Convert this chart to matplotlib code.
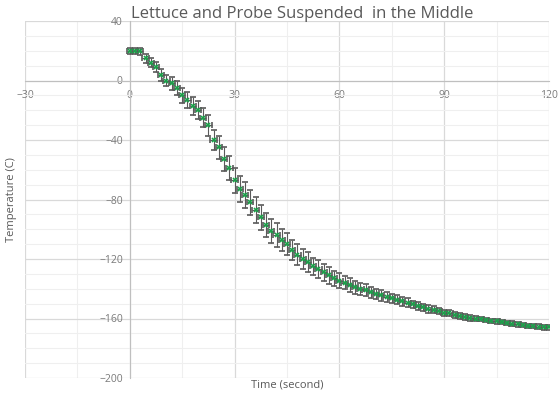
import matplotlib.pyplot as plt
import numpy as np
from matplotlib.ticker import MultipleLocator

# time in seconds, temperature in C, error (std dev)
time_s = [0, 1.5, 3, 4.5, 6, 7.5, 9, 10.5, 12, 13.5, 15, 16.5, 18, 19.5, 21, 22.5, 24, 25.5, 27, 28.5,
          30, 31.5, 33, 34.5, 36, 37.5, 39, 40.5, 42, 43.5, 45, 46.5, 48, 49.5, 51, 52.5, 54, 55.5, 57, 58.5,
          60, 61.5, 63, 64.5, 66, 67.5, 69, 70.5, 72, 73.5, 75, 76.5, 78, 79.5, 81, 82.5, 84, 85.5, 87, 88.5,
          90, 91.5, 93, 94.5, 96, 97.5, 99, 100.5, 102, 103.5, 105, 106.5, 108, 109.5, 111, 112.5, 114, 115.5,
          117, 118.5, 120]
temp_c = [20, 20, 19.5, 15, 12, 9, 4, 0, -2, -5, -10, -13, -17, -20, -25, -30, -40, -45, -53, -59,
          -67, -73, -77, -82, -87, -92, -97, -101, -104, -107, -110, -114, -117, -120, -122, -125, -127, -129, -131, -133,
          -134.5, -136, -137.5, -139, -140, -141, -142.5, -143.5, -144.5, -145.5, -146.5, -147.5, -148.5, -149.5, -150.5, -151.5, -152.5, -153.5, -154, -155,
          -156, -156.5, -157.5, -158.5, -159, -159.5, -160, -160.5, -161, -161.5, -162, -162.5, -163, -163.5, -164, -164.5, -165, -165,
          -165.5, -166, -166]
temp_err = [2, 2, 2.5, 3, 3, 3.5, 4, 4, 4.5, 5, 5, 5.5, 6, 6, 6.5, 7, 7, 7.5, 8, 8,
            8.5, 8.5, 8.5, 8.5, 8.5, 8.5, 8, 8, 8, 7.5, 7.5, 7, 7, 6.5, 6.5, 6, 6, 5.5, 5.5, 5,
            5, 4.5, 4.5, 4.5, 4, 4, 4, 3.5, 3.5, 3.5, 3, 3, 3, 3, 2.5, 2.5, 2.5, 2.5, 2.5, 2,
            2, 2, 2, 2, 2, 2, 1.5, 1.5, 1.5, 1.5, 1.5, 1.5, 1.5, 1.5, 1.5, 1.5, 1.5, 1.5,
            1.5, 1.5, 1.5]

plt.rcParams['font.family'] = ['Open Sans', 'DejaVu Sans']
txtcol = '#595959'

fig = plt.figure(figsize=(5.59, 3.97), dpi=100)
ax = fig.add_axes([25/559, 1-378/397, 524/559, 357/397])

ax.set_xlim(-30, 120)
ax.set_ylim(-200, 40)
ax.xaxis.set_major_locator(MultipleLocator(30))
ax.xaxis.set_minor_locator(MultipleLocator(15))
ax.yaxis.set_major_locator(MultipleLocator(40))
ax.yaxis.set_minor_locator(MultipleLocator(10))
ax.grid(which='major', color='#d9d9d9', lw=0.9, zorder=0)
ax.grid(which='minor', color='#efefef', lw=0.8, zorder=0)
ax.set_axisbelow(True)

for s in ['top', 'right']:
    ax.spines[s].set_visible(False)
ax.spines['left'].set_position(('data', 0))
ax.spines['bottom'].set_position(('data', 0))
ax.spines['left'].set_color('#bfbfbf')
ax.spines['bottom'].set_color('#bfbfbf')
ax.tick_params(which='both', length=0, labelsize=7.5, labelcolor='#7a7a7a')
ax.tick_params(axis='x', pad=7)
ax.tick_params(axis='y', pad=5)

ax.errorbar(time_s, temp_c, yerr=temp_err, xerr=0.9, fmt='x', color='#1aa34a',
            ms=3.5, mew=1.2, ecolor='#5a5a5a', elinewidth=0.8, capsize=2.2, capthick=0.8, zorder=3)

fig.text(302/559, 1-14/397, 'Lettuce and Probe Suspended  in the Middle', ha='center', va='center',
         fontsize=12, color=txtcol)
fig.text(12/559, 1-200/397, 'Temperature (C)', rotation=90, ha='center', va='center',
         fontsize=8, color=txtcol)
fig.text(287/559, 1-385/397, 'Time (second)', ha='center', va='center', fontsize=8, color=txtcol)

fig.savefig('out.png', dpi=100)
